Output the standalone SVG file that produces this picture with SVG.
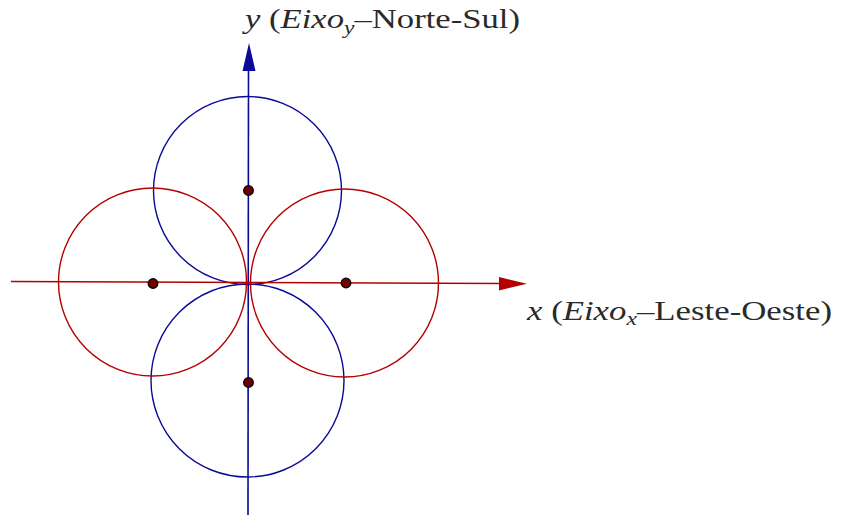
<svg xmlns="http://www.w3.org/2000/svg" width="843" height="517" viewBox="0 0 843 517">
<style>
.bl{fill:none;stroke:#0a0a96;stroke-width:1.4}
.rd{fill:none;stroke:#b40000;stroke-width:1.4}
.dot{fill:#6e0000;stroke:#000;stroke-width:1.3}
.lbl{font-family:"Liberation Serif","DejaVu Serif",serif;font-size:28px;fill:#2a2a2a}
.it{font-style:italic}
</style>
<rect width="843" height="517" fill="#fff"/>
<g id="circles">
<g id="circle-top"><circle class="bl" cx="247.5" cy="190.5" r="94"/></g>
<g id="circle-bottom"><circle class="bl" cx="247.5" cy="380.5" r="96.5"/></g>
<g id="circle-left"><circle class="rd" cx="152.5" cy="282" r="94"/></g>
<g id="circle-right"><circle class="rd" cx="344.5" cy="283" r="94"/></g>
</g>
<g id="connectors">
<line x1="248.5" y1="66" x2="248" y2="515" stroke="#0a0a96" stroke-width="1.6"/>
<polygon points="249,43 242.5,71 255.5,71" fill="#0a0a96"/>
<line x1="11" y1="281.5" x2="502" y2="283.5" stroke="#b40000" stroke-width="1.6"/>
<polygon points="527,283.8 499,277 499,290.5" fill="#b40000"/>
</g>
<g id="dots">
<circle class="dot" cx="248.5" cy="190.5" r="4.8"/>
<circle class="dot" cx="248.5" cy="382.5" r="4.8"/>
<circle class="dot" cx="153" cy="283.5" r="4.8"/>
<circle class="dot" cx="346" cy="283" r="4.8"/>
</g>
<g id="label-y">
<text class="lbl" x="245" y="28" textLength="275" lengthAdjust="spacingAndGlyphs"><tspan class="it">y</tspan> (<tspan class="it">Eixo</tspan><tspan class="it" font-size="19" dy="6">y</tspan><tspan dy="-6">–Norte-Sul)</tspan></text>
</g>
<g id="label-x">
<text class="lbl" x="527" y="320" textLength="305" lengthAdjust="spacingAndGlyphs"><tspan class="it">x</tspan> (<tspan class="it">Eixo</tspan><tspan class="it" font-size="19" dy="5">x</tspan><tspan dy="-5">–Leste-Oeste)</tspan></text>
</g>
</svg>
